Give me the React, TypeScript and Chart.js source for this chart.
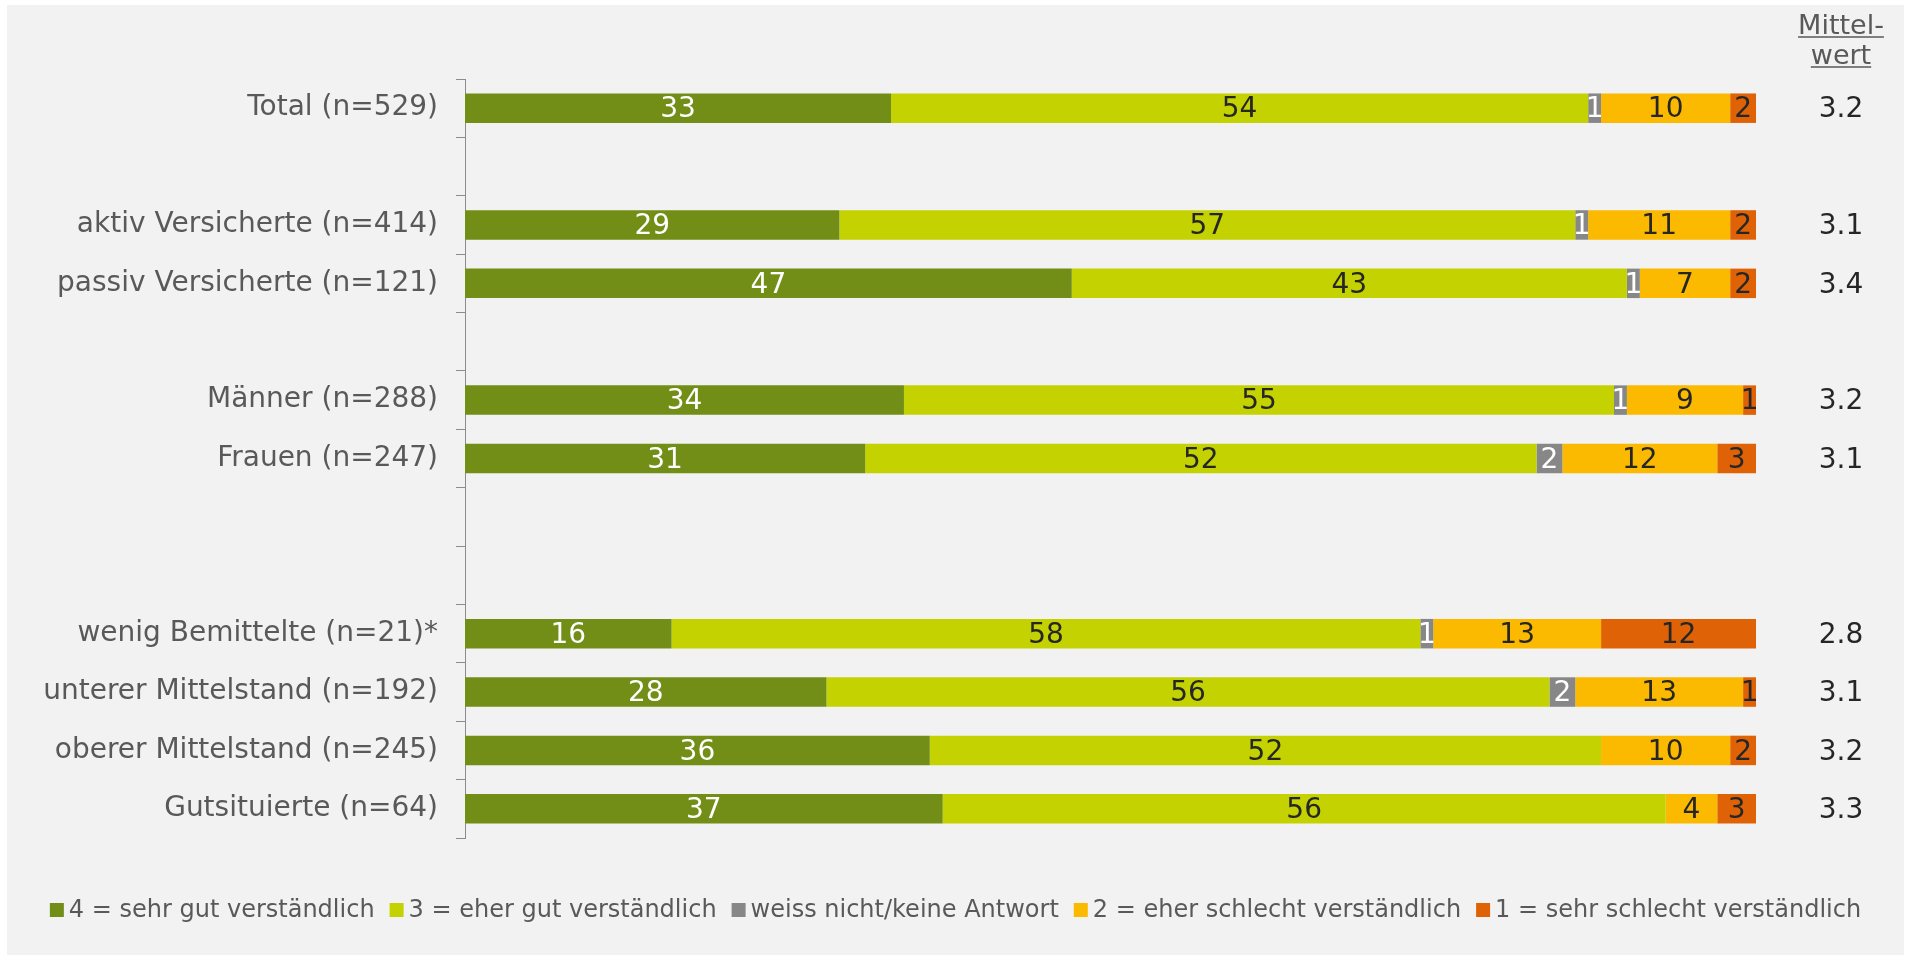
import React, { useEffect, useRef } from 'react';
import { Chart, registerables } from 'chart.js';

Chart.register(...registerables);

const FONT = "'DejaVu Sans', Verdana, sans-serif";

const categories = [
  'Total (n=529)',
  '',
  'aktiv Versicherte (n=414)',
  'passiv Versicherte (n=121)',
  '',
  'Männer (n=288)',
  'Frauen (n=247)',
  '',
  '',
  'wenig Bemittelte (n=21)*',
  'unterer Mittelstand (n=192)',
  'oberer Mittelstand (n=245)',
  'Gutsituierte (n=64)',
];

const sehrGut = [33, null, 29, 47, null, 34, 31, null, null, 16, 28, 36, 37];
const eherGut = [54, null, 57, 43, null, 55, 52, null, null, 58, 56, 52, 56];
const weissNicht = [1, null, 1, 1, null, 1, 2, null, null, 1, 2, 0, 0];
const eherSchlecht = [10, null, 11, 7, null, 9, 12, null, null, 13, 13, 10, 4];
const sehrSchlecht = [2, null, 2, 2, null, 1, 3, null, null, 12, 1, 2, 3];

const mittelwert = ['3.2', '', '3.1', '3.4', '', '3.2', '3.1', '', '', '2.8', '3.1', '3.2', '3.3'];

const seriesNames = [
  '4 = sehr gut verständlich',
  '3 = eher gut verständlich',
  'weiss nicht/keine Antwort',
  '2 = eher schlecht verständlich',
  '1 = sehr schlecht verständlich',
];
const seriesData = [sehrGut, eherGut, weissNicht, eherSchlecht, sehrSchlecht];
const seriesColors = ['#728E16', '#C3D200', '#878787', '#FBB900', '#E06206'];
const valueColors = ['#FFFFFF', '#262626', '#FFFFFF', '#262626', '#262626'];

const panelPlugin = {
  id: 'panel',
  beforeDraw(chart: any) {
    const ctx = chart.ctx;
    ctx.save();
    ctx.fillStyle = '#FFFFFF';
    ctx.fillRect(0, 0, chart.width, chart.height);
    ctx.fillStyle = '#F2F2F2';
    ctx.fillRect(7, 5, 1897, 950);
    ctx.restore();
  },
};

const valueLabelPlugin = {
  id: 'valueLabels',
  afterDatasetsDraw(chart: any) {
    const ctx = chart.ctx;
    ctx.save();
    ctx.font = `28px ${FONT}`;
    ctx.textAlign = 'center';
    ctx.textBaseline = 'middle';
    chart.data.datasets.forEach((ds: any, i: number) => {
      const meta = chart.getDatasetMeta(i);
      meta.data.forEach((bar: any, j: number) => {
        const v = ds.data[j];
        if (v == null || v === 0) return;
        const p = bar.getProps(['x', 'y', 'base'], true);
        ctx.fillStyle = valueColors[i];
        ctx.fillText(String(v), (p.x + p.base) / 2, p.y + 2);
      });
    });
    ctx.restore();
  },
};

const meanPlugin = {
  id: 'meanColumn',
  afterDraw(chart: any) {
    const ctx = chart.ctx;
    const yScale = chart.scales.y;
    const cx = 1841;
    ctx.save();
    ctx.textAlign = 'center';
    ctx.textBaseline = 'alphabetic';
    ctx.font = `27px ${FONT}`;
    ctx.fillStyle = '#595959';
    ctx.strokeStyle = '#595959';
    ctx.lineWidth = 1.5;
    const heads = [
      { t: 'Mittel-', y: 34 },
      { t: 'wert', y: 64 },
    ];
    heads.forEach((h) => {
      ctx.fillText(h.t, cx, h.y);
      const w = ctx.measureText(h.t).width;
      ctx.beginPath();
      ctx.moveTo(cx - w / 2, h.y + 3);
      ctx.lineTo(cx + w / 2, h.y + 3);
      ctx.stroke();
    });
    ctx.font = `28px ${FONT}`;
    ctx.fillStyle = '#262626';
    ctx.textBaseline = 'middle';
    mittelwert.forEach((m, j) => {
      if (!m) return;
      ctx.fillText(m, cx, yScale.getPixelForValue(j) + 2);
    });
    ctx.restore();
  },
};

const legendPlugin = {
  id: 'customLegend',
  afterDraw(chart: any) {
    const ctx = chart.ctx;
    ctx.save();
    ctx.font = `24px ${FONT}`;
    ctx.textBaseline = 'middle';
    ctx.textAlign = 'left';
    const box = 14;
    const boxGap = 5;
    const itemGap = 15;
    const widths = chart.data.datasets.map((ds: any) => ctx.measureText(ds.label).width);
    const total = widths.reduce((a: number, w: number) => a + box + boxGap + w, 0) + itemGap * (widths.length - 1);
    let x = 955.5 - total / 2;
    const cy = 910;
    chart.data.datasets.forEach((ds: any, i: number) => {
      ctx.fillStyle = ds.backgroundColor;
      ctx.fillRect(x, cy - box / 2, box, box);
      x += box + boxGap;
      ctx.fillStyle = '#595959';
      ctx.fillText(ds.label, x, cy + 1);
      x += widths[i] + itemGap;
    });
    ctx.restore();
  },
};

export default function App() {
  const canvasRef = useRef<HTMLCanvasElement | null>(null);

  useEffect(() => {
    if (!canvasRef.current) return;
    Chart.defaults.font.family = FONT;
    const chart = new Chart(canvasRef.current, {
      type: 'bar',
      data: {
        labels: categories,
        datasets: seriesNames.map((name, i) => ({
          label: name,
          data: seriesData[i],
          backgroundColor: seriesColors[i],
          borderWidth: 0,
          barPercentage: 0.505,
          categoryPercentage: 1,
        })),
      },
      options: {
        indexAxis: 'y',
        responsive: false,
        animation: false,
        devicePixelRatio: 1,
        layout: { padding: { left: 8, right: 155, top: 79, bottom: 125 } },
        plugins: {
          legend: { display: false },
          tooltip: { enabled: false },
          title: { display: false },
        },
        scales: {
          x: { stacked: true, display: false, min: 0, max: 100 },
          y: {
            stacked: true,
            offset: true,
            grid: {
              offset: true,
              drawOnChartArea: false,
              drawTicks: true,
              tickLength: 9,
              color: '#8C8C8C',
              lineWidth: 1,
            },
            border: { display: true, color: '#8C8C8C', width: 1 },
            ticks: {
              padding: 18,
              color: '#595959',
              font: { size: 28, family: FONT },
              autoSkip: false,
            },
            afterFit: (s: any) => {
              s.width = 457;
            },
          },
        },
      } as any,
      plugins: [panelPlugin, valueLabelPlugin, meanPlugin, legendPlugin],
    });
    return () => chart.destroy();
  }, []);

  return (
    <div style={{ position: 'absolute', left: 0, top: 0, width: 1911, height: 963 }}>
      <canvas ref={canvasRef} width={1911} height={963} style={{ display: 'block' }} />
    </div>
  );
}
